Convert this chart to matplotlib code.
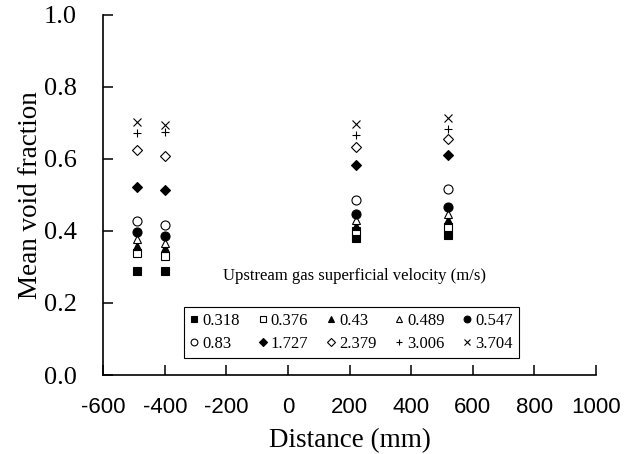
import matplotlib.pyplot as plt

# distance from reference point (mm)
distance = [-490, -400, 220, 520]

# upstream gas superficial velocity (m/s) -> mean void fraction
velocities = ['0.318', '0.376', '0.43', '0.489', '0.547',
              '0.83', '1.727', '2.379', '3.006', '3.704']
void_0318 = [0.289, 0.288, 0.380, 0.388]
void_0376 = [0.339, 0.330, 0.400, 0.410]
void_043 = [0.357, 0.352, 0.415, 0.430]
void_0489 = [0.377, 0.366, 0.430, 0.447]
void_0547 = [0.398, 0.386, 0.447, 0.466]
void_083 = [0.427, 0.418, 0.487, 0.517]
void_1727 = [0.521, 0.514, 0.583, 0.611]
void_2379 = [0.625, 0.608, 0.632, 0.655]
void_3006 = [0.673, 0.676, 0.668, 0.683]
void_3704 = [0.704, 0.695, 0.697, 0.713]

series = [void_0318, void_0376, void_043, void_0489, void_0547,
          void_083, void_1727, void_2379, void_3006, void_3704]
# (marker, filled, size)
styles = [('s', True, 6), ('s', False, 6), ('^', True, 6), ('^', False, 6),
          ('o', True, 6.5), ('o', False, 6.5), ('D', True, 5), ('D', False, 5),
          ('+', True, 6), ('x', True, 5.5)]

serif = 'Liberation Serif'
sans = 'Liberation Sans'
plt.rcParams['axes.unicode_minus'] = False

fig = plt.figure(figsize=(6.36, 4.54), dpi=100)
ax = fig.add_axes([0.1624, 0.174, 0.7746, 0.793])

handles = []
for vals, (m, filled, ms) in zip(series, styles):
    face = 'black' if filled else 'white'
    h, = ax.plot(distance, vals, linestyle='none', marker=m, markersize=ms,
                 markerfacecolor=face, markeredgecolor='black',
                 markeredgewidth=0.8, color='black')
    handles.append(h)

ax.set_xlim(-600, 1000)
ax.set_ylim(0, 1.0)
ax.set_xticks(range(-600, 1001, 200))
ax.set_yticks([0.0, 0.2, 0.4, 0.6, 0.8, 1.0])
ax.set_yticklabels(['%.1f' % t for t in ax.get_yticks()])

for s in ['top', 'right']:
    ax.spines[s].set_visible(False)
for s in ['left', 'bottom']:
    ax.spines[s].set_linewidth(1.2)

ax.tick_params(direction='in', length=7, width=1.1)
ax.tick_params(axis='x', pad=16)
ax.tick_params(axis='y', pad=19)
for lab in ax.get_xticklabels():
    lab.set_fontfamily(sans)
    lab.set_fontsize(16)
for lab in ax.get_yticklabels():
    lab.set_fontfamily(serif)
    lab.set_fontsize(19)

ax.set_xlabel('Distance (mm)', fontfamily=serif, fontsize=19.5, labelpad=7)
ax.set_ylabel('Mean void fraction', fontfamily=serif, fontsize=19.5, labelpad=1)

# legend is filled column by column, so reorder for row-wise reading
order = []
for c in range(5):
    order += [c, c + 5]
leg = ax.legend([handles[i] for i in order], [velocities[i] for i in order],
                ncol=5, loc='lower left', bbox_to_anchor=(0.163, 0.047, 0.68, 0.19),
                mode='expand', prop={'family': serif, 'size': 12},
                handlelength=0.6, handletextpad=0.2, columnspacing=0.8,
                markerscale=0.75, fancybox=False, framealpha=1,
                borderaxespad=0, labelspacing=0.45, borderpad=0.35)
leg.get_frame().set_edgecolor('black')
leg.get_frame().set_linewidth(0.8)

ax.text(0.509, 0.276, 'Upstream gas superficial velocity (m/s)',
        transform=ax.transAxes, ha='center', va='center',
        fontfamily=serif, fontsize=12)

fig.savefig('out.png', dpi=100)
